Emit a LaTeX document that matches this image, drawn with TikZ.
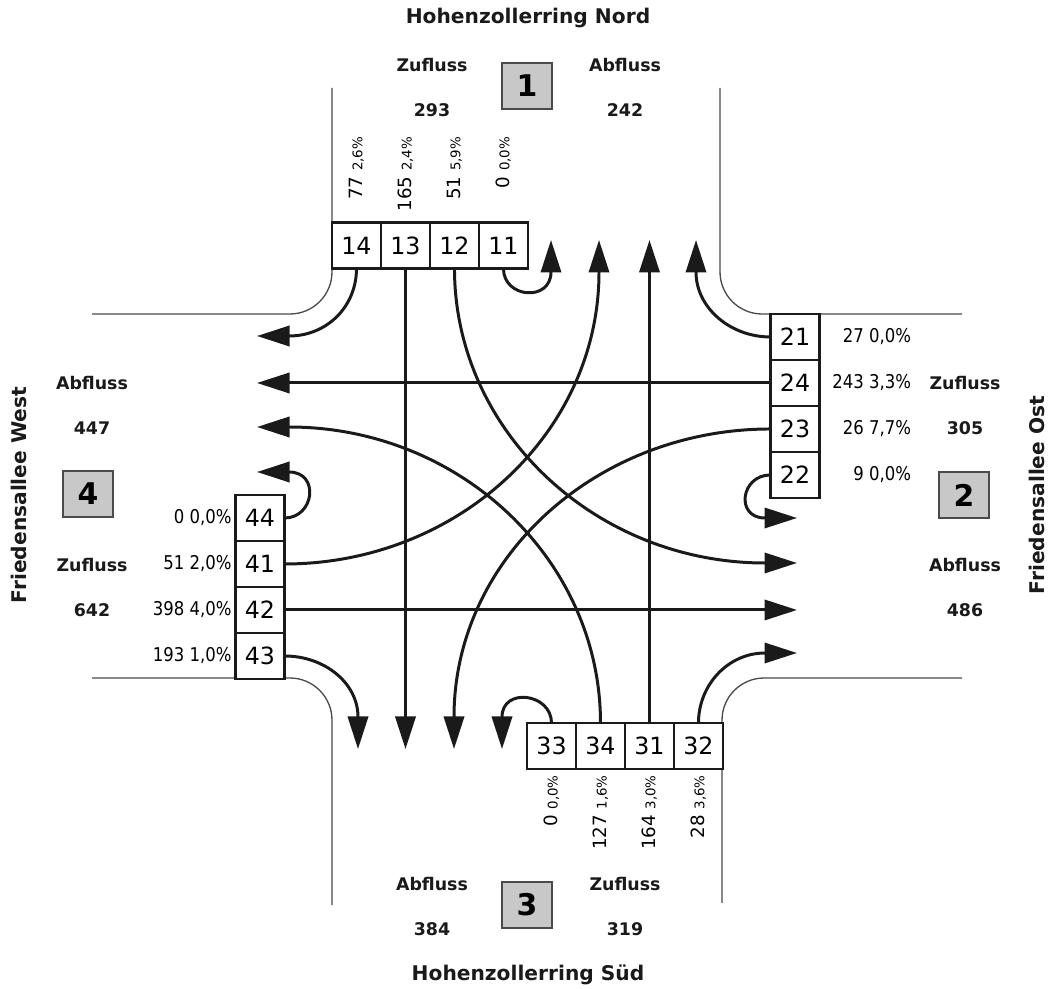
\documentclass[tikz,border=0pt]{standalone}
\usepackage{fontspec}
\setmainfont{DejaVu Sans}
\newfontfamily\narrow[FakeStretch=0.87]{DejaVu Sans}
\usepackage{tikz}
\usetikzlibrary{arrows.meta,positioning,calc}
\definecolor{ink}{HTML}{1A1A1A}
\definecolor{roadgray}{HTML}{4A4A4A}
\definecolor{zonegray}{HTML}{C8C8C8}
\newcommand{\share}[1]{{\fontsize{7.6}{9}\selectfont #1\%}}

\begin{document}
\begin{tikzpicture}[
  x=0.02cm, y=-0.02cm,
  cell/.style={draw=ink, line width=0.8pt, fill=white, minimum width=0.98cm, minimum height=0.92cm, inner sep=0pt, outer sep=0pt, font=\fontsize{13.5}{15}\selectfont},
  outline/.style={draw=ink, line width=1.4pt},
  zonebox/.style={draw=roadgray, line width=0.8pt, fill=zonegray, minimum width=1cm, minimum height=0.92cm, inner sep=0pt, font=\bfseries\fontsize{17}{20}\selectfont},
  heading/.style={font=\bfseries\fontsize{9.9}{12}\selectfont, text=ink},
  street/.style={inner sep=0pt, font=\bfseries\fontsize{11.5}{14}\selectfont, text=ink},
  hlbl/.style={anchor=east, inner sep=0pt, font=\narrow\fontsize{10.8}{13}\selectfont},
  vlbl/.style={anchor=east, rotate=90, inner sep=0pt, font=\fontsize{10.4}{12}\selectfont},
  road/.style={draw=roadgray, line width=0.75pt, rounded corners=24pt},
  flow/.style={draw=ink, line width=1.7pt, -{Triangle[length=18.5pt,width=11.5pt]}}
]
\useasboundingbox (0,0) rectangle (1048,989);

% road edges
\draw[road] (332,88) -- (332,314) -- (92,314);
\draw[road] (720,88) -- (720,314) -- (962,314);
\draw[road] (92,678) -- (332,678) -- (332,905);
\draw[road] (962,678) -- (722,678) -- (722,903);

% lanes north
\node[cell] (c14) at (356.5,245.5) {14};
\node[cell, right=0pt of c14] (c13) {13};
\node[cell, right=0pt of c13] (c12) {12};
\node[cell, right=0pt of c12] (c11) {11};
\draw[outline] (c14.north west) rectangle (c11.south east);

% lanes east
\node[cell] (c21) at (795,337) {21};
\node[cell, below=0pt of c21] (c24) {24};
\node[cell, below=0pt of c24] (c23) {23};
\node[cell, below=0pt of c23] (c22) {22};
\draw[outline] (c21.north west) rectangle (c22.south east);

% lanes south
\node[cell] (c33) at (551.5,746) {33};
\node[cell, right=0pt of c33] (c34) {34};
\node[cell, right=0pt of c34] (c31) {31};
\node[cell, right=0pt of c31] (c32) {32};
\draw[outline] (c33.north west) rectangle (c32.south east);

% lanes west
\node[cell] (c44) at (260,518) {44};
\node[cell, below=0pt of c44] (c41) {41};
\node[cell, below=0pt of c41] (c42) {42};
\node[cell, below=0pt of c42] (c43) {43};
\draw[outline] (c44.north west) rectangle (c43.south east);

% counts per lane
\node[vlbl] at ($(c14.north)+(0,-86)$) {77 \share{2,6}};
\node[vlbl] at ($(c13.north)+(0,-86)$) {165 \share{2,4}};
\node[vlbl] at ($(c12.north)+(0,-86)$) {51 \share{5,9}};
\node[vlbl] at ($(c11.north)+(0,-86)$) {0 \share{0,0}};
\node[vlbl] at ($(c33.south)+(0,6)$) {0 \share{0,0}};
\node[vlbl] at ($(c34.south)+(0,6)$) {127 \share{1,6}};
\node[vlbl] at ($(c31.south)+(0,6)$) {164 \share{3,0}};
\node[vlbl] at ($(c32.south)+(0,6)$) {28 \share{3,6}};
\node[hlbl, left=2pt of c44] {0 0,0\%};
\node[hlbl, left=2pt of c41] {51 2,0\%};
\node[hlbl, left=2pt of c42] {398 4,0\%};
\node[hlbl, left=2pt of c43] {193 1,0\%};
\node[hlbl] at ($(c21.east)+(92,0)$) {27 0,0\%};
\node[hlbl] at ($(c24.east)+(92,0)$) {243 3,3\%};
\node[hlbl] at ($(c23.east)+(92,0)$) {26 7,7\%};
\node[hlbl] at ($(c22.east)+(92,0)$) {9 0,0\%};

% approaches
\node[street] (tN) at (528,18) {Hohenzollerring Nord};
\node[zonebox] (z1) at (527,86) {1};
\node[heading] (inN) at (432,65) {Zufluss};
\node[heading] (qinN) at (432,110) {293};
\node[heading] (outN) at (625,65) {Abfluss};
\node[heading] (qoutN) at (625,110) {242};

\node[street, rotate=90] (tE) at (1037,495) {Friedensallee Ost};
\node[zonebox] (z2) at (964,495) {2};
\node[heading] (inE) at (965,383) {Zufluss};
\node[heading] (qinE) at (965,428) {305};
\node[heading] (outE) at (965,565) {Abfluss};
\node[heading] (qoutE) at (965,610) {486};

\node[street] (tS) at (528,975) {Hohenzollerring Süd};
\node[zonebox] (z3) at (527,905) {3};
\node[heading] (outS) at (432,884) {Abfluss};
\node[heading] (qoutS) at (432,929) {384};
\node[heading] (inS) at (625,884) {Zufluss};
\node[heading] (qinS) at (625,929) {319};

\node[street, rotate=90] (tW) at (19,495) {Friedensallee West};
\node[zonebox] (z4) at (88,494) {4};
\node[heading] (outW) at (92,383) {Abfluss};
\node[heading] (qoutW) at (92,428) {447};
\node[heading] (inW) at (92,565) {Zufluss};
\node[heading] (qinW) at (92,610) {642};

% exit points
\coordinate (oN1) at (551,240);
\coordinate (oN2) at (599,240);
\coordinate (oN3) at (648,240);
\coordinate (oN4) at (696,240);
\coordinate (oW1) at (257,336);
\coordinate (oW2) at (257,383);
\coordinate (oW3) at (257,427);
\coordinate (oW4) at (257,472);
\coordinate (oS1) at (358,749);
\coordinate (oS2) at (406,749);
\coordinate (oS3) at (454,749);
\coordinate (oS4) at (502,749);
\coordinate (oE1) at (797,518);
\coordinate (oE2) at (797,563);
\coordinate (oE3) at (797,610);
\coordinate (oE4) at (797,653);

% through
\draw[flow] (c13.south) -- (c13.south |- oS2);
\draw[flow] (c31.north) -- (c31.north |- oN3);
\draw[flow] (c24.west) -- (c24.west -| oW2);
\draw[flow] (c42.east) -- (c42.east -| oE3);
% right turns
\draw[flow] (c14.south) .. controls +(0,38) and +(38,0) .. ($(oW1)+(32,0)$) -- (oW1);
\draw[flow] (c21.west) .. controls +(-40,0) and +(0,36) .. ($(oN4)+(0,32)$) -- (oN4);
\draw[flow] (c32.north) .. controls +(0,-38) and +(-37,0) .. ($(oE4)+(-32,0)$) -- (oE4);
\draw[flow] (c43.east) .. controls +(40,0) and +(0,-34) .. ($(oS1)+(0,-32)$) -- (oS1);
% left turns
\draw[flow] (c12.south) .. controls +(0,162) and +(-170,0) .. ($(oE2)+(-32,0)$) -- (oE2);
\draw[flow] (c41.east) .. controls +(173,0) and +(0,161) .. ($(oN2)+(0,32)$) -- (oN2);
\draw[flow] (c34.north) .. controls +(0,-163) and +(171,0) .. ($(oW3)+(32,0)$) -- (oW3);
\draw[flow] (c23.west) .. controls +(-174,0) and +(0,-159) .. ($(oS3)+(0,-32)$) -- (oS3);
% u-turns
\draw[flow] (c11.south) .. controls +(0,30) and +(0,30) .. ($(oN1)+(0,32)$) -- (oN1);
\draw[flow] (c44.east) .. controls +(30,0) and +(31,0) .. ($(oW4)+(32,0)$) -- (oW4);
\draw[flow] (c33.north) .. controls +(0,-30) and +(0,-30) .. ($(oS4)+(0,-32)$) -- (oS4);
\draw[flow] (c22.west) .. controls +(-30,0) and +(-30,0) .. ($(oE1)+(-32,0)$) -- (oE1);
\end{tikzpicture}
\end{document}
